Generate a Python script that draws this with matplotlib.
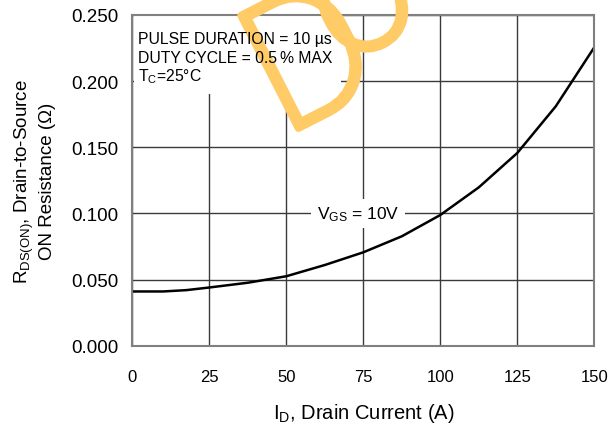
import matplotlib
matplotlib.use("Agg")
import matplotlib.pyplot as plt
import matplotlib.patheffects as pe
from matplotlib.patches import Rectangle
from matplotlib.transforms import IdentityTransform

plt.rcParams['font.family'] = ['Liberation Sans', 'DejaVu Sans']
plt.rcParams['mathtext.fontset'] = 'custom'
plt.rcParams['mathtext.rm'] = 'Liberation Sans'
plt.rcParams['mathtext.it'] = 'Liberation Sans'
plt.rcParams['mathtext.default'] = 'regular'

# ---- data ----
drain_current = [0, 10, 17.5, 25, 37.5, 50, 62.5, 75, 87.5, 100, 112.5, 125, 137.5, 150]
rds_on = [0.041, 0.041, 0.042, 0.044, 0.0476, 0.0525, 0.061, 0.0706, 0.0827,
          0.0988, 0.1197, 0.1457, 0.181, 0.2256]
x_ticks = [0, 25, 50, 75, 100, 125, 150]
x_tick_labels = ['0', '25', '50', '75', '100', '125', '150']
y_ticks = [0.0, 0.05, 0.10, 0.15, 0.20, 0.25]
y_tick_labels = ['0.000', '0.050', '0.100', '0.150', '0.200', '0.250']
notes = ['PULSE DURATION = 10 \u00b5s', 'DUTY CYCLE = 0.5\u2009% MAX', 'T$_{C}$=25\u00b0C']
curve_label = 'V$_{GS}$ = 10V'

W, H = 611, 427
fig = plt.figure(figsize=(W / 100, H / 100), dpi=100)
ax = fig.add_axes([132.3 / W, (H - 346.7) / H, 462 / W, 330.7 / H])

ax.set_xlim(0, 150)
ax.set_ylim(0, 0.25)
ax.set_xticks(x_ticks)
ax.set_xticklabels(x_tick_labels)
ax.set_yticks(y_ticks)
ax.set_yticklabels(y_tick_labels)
ax.tick_params(axis='both', length=0)
ax.tick_params(axis='x', labelsize=12, pad=17)
ax.tick_params(axis='y', labelsize=13.5, pad=10)

ax.set_axisbelow(True)
ax.grid(True, color='#3a3a3a', linewidth=1.0)
for s in ax.spines.values():
    s.set_color('#808080')
    s.set_linewidth(1.5)

# white area behind notes (interrupts grid)
ax.add_patch(Rectangle((0.4, 0.190), 67.4, 0.0595, facecolor='white',
                       edgecolor='none', zorder=1.5))

ax.plot(drain_current, rds_on, color='black', linewidth=1.8, zorder=2,
        solid_joinstyle='round')

ax.text(73.3, 0.100, curve_label, fontsize=12.5, ha='center', va='center',
        zorder=4, bbox=dict(facecolor='white', edgecolor='none', pad=4))

# notes
def fx(px):
    return px / W

def fy(py):
    return (H - py) / H

for txt, base in zip(notes, [44.3, 63.3, 81.5]):
    ax.text(fx(137.5), fy(base), txt, fontsize=11.3, ha='left', va='baseline',
            transform=fig.transFigure, zorder=4)

# watermark
wm_color = '#FFCB66'
wm_fx = [pe.withStroke(linewidth=5.5, foreground=wm_color)]
ax.text(283, H - 137, 'D', fontsize=128, family=['Roboto'], fontweight='light',
        color=wm_color, rotation=27, rotation_mode='anchor',
        ha='left', va='baseline', transform=IdentityTransform(), clip_on=False,
        zorder=3, path_effects=wm_fx)
ax.text(383, H - 44, 'o', fontsize=122, family=['Roboto'], fontweight='light',
        color=wm_color, rotation=27, rotation_mode='anchor',
        ha='center', va='baseline', transform=IdentityTransform(), clip_on=False,
        zorder=3, path_effects=wm_fx)

ax.set_xlabel('I$_{D}$, Drain Current (A)', fontsize=14.5, labelpad=12)
ax.set_ylabel('R$_{DS(ON)}$, Drain-to-Source\nON Resistance (\u03a9)', fontsize=13.5,
              labelpad=11)

fig.savefig('out.png', dpi=100)
